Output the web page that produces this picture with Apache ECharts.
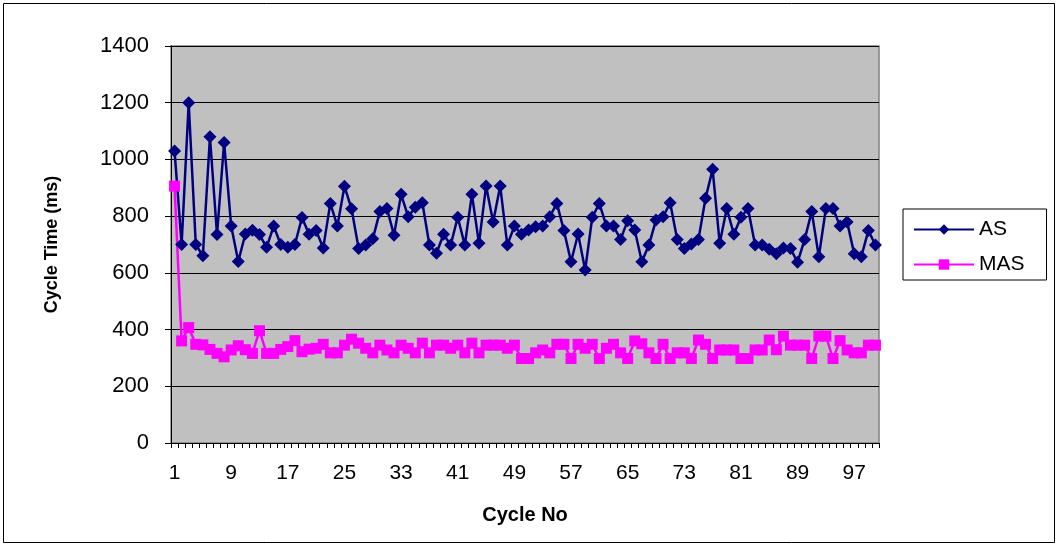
<!DOCTYPE html>
<html><head><meta charset="utf-8">
<script src="https://cdn.jsdelivr.net/npm/echarts@6/dist/echarts.min.js"></script>
<style>html,body{margin:0;padding:0;background:#fff}#c{width:1059px;height:547px}</style>
</head><body><div id="c"></div>
<script>
const categories = Array.from({length:100},(_,i)=>String(i+1));
const asValues = [1030,700,1200,700,660,1080,735,1060,765,640,
737,750,735,690,765,700,690,700,795,736,
749,688,845,765,905,826,686,698,720,816,
827,733,877,798,831,847,698,669,736,698,
796,698,877,704,906,779,906,698,765,736,
751,763,765,798,845,749,639,737,610,796,
845,765,765,718,784,751,639,698,786,798,
847,718,686,702,718,863,965,704,827,736,
796,827,698,698,683,667,688,686,637,718,
816,657,827,827,765,779,667,657,749,698];
const masValues = [906,360,407,348,346,330,316,304,328,343,
329,316,396,316,316,330,340,361,322,331,
334,348,318,318,345,366,352,334,318,345,
328,318,345,334,318,352,318,345,345,334,
345,318,352,318,345,345,345,334,345,298,
298,318,328,318,348,348,298,348,334,348,
298,334,348,318,298,360,350,318,298,348,
298,318,318,298,363,348,298,328,328,328,
298,298,328,328,363,329,377,345,345,345,
298,377,377,298,361,328,318,318,345,345];
const seriesNames = ['AS','MAS'];

const FONT = 'Liberation Sans, Arial, sans-serif';
const chart = echarts.init(document.getElementById('c'));
chart.setOption({
  animation:false,
  backgroundColor:'#ffffff',
  graphic:[{type:'rect',shape:{x:3.5,y:3.5,width:1051,height:539},style:{fill:'none',stroke:'#000',lineWidth:1},silent:true}],
  grid:{left:171,right:180,top:46,bottom:104,show:true,backgroundColor:'#c0c0c0',borderColor:'#808080',borderWidth:1.5},
  legend:{
    orient:'vertical',left:903,top:209,
    data:seriesNames,
    itemWidth:60,itemHeight:13,itemGap:14,
    padding:[10,22,5,10],
    borderColor:'#000',borderWidth:1,
    textStyle:{fontFamily:FONT,fontSize:21,color:'#000'}
  },
  xAxis:{
    type:'category',data:categories,boundaryGap:true,
    name:'Cycle No',nameLocation:'middle',nameGap:62,
    nameTextStyle:{fontFamily:FONT,fontSize:20,fontWeight:'bold',color:'#000'},
    axisLine:{lineStyle:{color:'#000',width:1}},
    axisTick:{show:true,interval:0,length:5,lineStyle:{color:'#000'}},
    axisLabel:{interval:7,margin:20,fontFamily:FONT,fontSize:21,color:'#000'},
    splitLine:{show:false}
  },
  yAxis:{
    type:'value',min:0,max:1400,interval:200,
    name:'Cycle Time (ms)',nameLocation:'middle',nameGap:110,
    nameTextStyle:{fontFamily:FONT,fontSize:18,fontWeight:'bold',color:'#000'},
    axisLine:{show:true,lineStyle:{color:'#000',width:1}},
    axisTick:{show:true,length:6,lineStyle:{color:'#000'}},
    axisLabel:{margin:22,fontFamily:FONT,fontSize:22,color:'#000',formatter:v=>String(v)},
    splitLine:{show:true,lineStyle:{color:'#000',width:1}}
  },
  series:[
    {name:seriesNames[0],type:'line',data:asValues,symbol:'diamond',symbolSize:13,showAllSymbol:true,
     itemStyle:{color:'#000080'},lineStyle:{color:'#000080',width:2.5}},
    {name:seriesNames[1],type:'line',data:masValues,symbol:'rect',symbolSize:11,showAllSymbol:true,
     itemStyle:{color:'#ff00ff'},lineStyle:{color:'#ff00ff',width:2.5}}
  ]
});
</script></body></html>
